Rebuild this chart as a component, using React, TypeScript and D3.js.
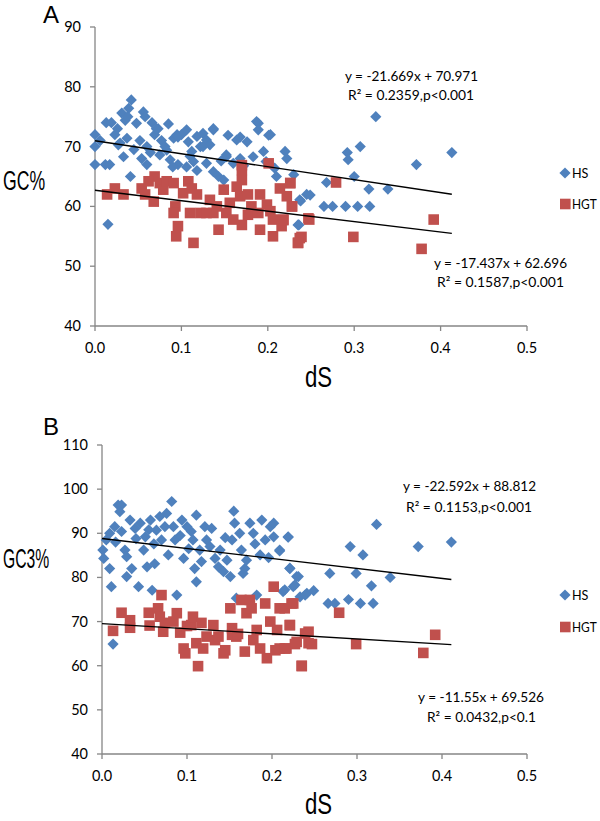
import React from "react";
import * as d3 from "d3";

const BLUE = "#4F81BD";
const RED = "#C0504D";
const AXIS = "#868686";

const X_TICKS = [0, 0.1, 0.2, 0.3, 0.4, 0.5];
const Y_TICKS_A = [40, 50, 60, 70, 80, 90];
const Y_TICKS_B = [40, 50, 60, 70, 80, 90, 100, 110];

// Panel A: GC% vs dS
const HS_A: [number, number][] = [
  [0.0, 72], [0.0, 70], [0.0, 67], [0.006, 71], [0.013, 74], [0.015, 57], [0.012, 67],
  [0.019, 74], [0.023, 72], [0.027, 70.3], [0.031, 75.6], [0.033, 68.3], [0.037, 71.4],
  [0.042, 77.8], [0.039, 76.4], [0.035, 74.4], [0.041, 65], [0.048, 73.9], [0.052, 71],
  [0.056, 75.8], [0.058, 75], [0.054, 68], [0.06, 67], [0.066, 74], [0.069, 72],
  [0.073, 73], [0.077, 71], [0.075, 68.6], [0.083, 69.4], [0.087, 67.8], [0.091, 71.4],
  [0.095, 72], [0.096, 67], [0.1, 72], [0.106, 72.8], [0.108, 70.8], [0.112, 69.2],
  [0.114, 67.5], [0.118, 71.7], [0.122, 70], [0.125, 72.2], [0.129, 71.1], [0.133, 70.3],
  [0.137, 72.8], [0.129, 67.2], [0.137, 65.8], [0.143, 65], [0.149, 64.4], [0.154, 71.9],
  [0.152, 68.6], [0.164, 71.1], [0.16, 67.2], [0.168, 68], [0.176, 70.8], [0.183, 68.3],
  [0.189, 73.9], [0.189, 72.8], [0.195, 69.2], [0.201, 71.9], [0.208, 66.4], [0.21, 65],
  [0.22, 69.2], [0.222, 68], [0.23, 65.3], [0.235, 56.9], [0.237, 61.1], [0.245, 62],
  [0.325, 75], [0.307, 70], [0.292, 69], [0.293, 67.8], [0.413, 69], [0.372, 67],
  [0.3, 65], [0.268, 64], [0.317, 62.9], [0.339, 62.9], [0.265, 60], [0.275, 60],
  [0.29, 60], [0.304, 60], [0.318, 60], [0.249, 61.9], [0.238, 60.9], [0.236, 56.9],
  [0.017, 67], [0.029, 70.6], [0.038, 75], [0.06, 70], [0.071, 73], [0.081, 70],
  [0.096, 71.6], [0.125, 70], [0.137, 73], [0.106, 66.6], [0.09, 66.6], [0.152, 68.3],
  [0.168, 71.6], [0.187, 74.2], [0.203, 72], [0.045, 69.5], [0.064, 69], [0.11, 68.4],
  [0.146, 67.6], [0.172, 66.8], [0.026, 73], [0.085, 73.8], [0.118, 66], [0.198, 67.5],
];

const HGT_A: [number, number][] = [
  [0.014, 62], [0.023, 63], [0.033, 62], [0.054, 63], [0.058, 62], [0.068, 60.8],
  [0.069, 65], [0.062, 64.2], [0.075, 63.9], [0.079, 62.8], [0.083, 64.2], [0.091, 63.9],
  [0.093, 60], [0.091, 58.9], [0.096, 56.7], [0.094, 55], [0.102, 62.2], [0.108, 64.2],
  [0.112, 63], [0.114, 53.9], [0.11, 58.9], [0.118, 62], [0.122, 58.9], [0.129, 58.9],
  [0.133, 61.1], [0.137, 58.9], [0.141, 60], [0.143, 56.1], [0.149, 62.8], [0.152, 58.9],
  [0.156, 60.6], [0.16, 57.8], [0.164, 63.3], [0.17, 64.4], [0.17, 66.9], [0.17, 66.1],
  [0.168, 61.7], [0.17, 56.9], [0.177, 62], [0.177, 58.6], [0.181, 60], [0.189, 58.9],
  [0.191, 62], [0.191, 56.1], [0.201, 67.2], [0.199, 60.3], [0.203, 59.2], [0.206, 55],
  [0.206, 57.8], [0.214, 63], [0.216, 56.7], [0.218, 57.8], [0.222, 61.7], [0.226, 63.9],
  [0.228, 60], [0.235, 53.9], [0.237, 54.7], [0.247, 58], [0.279, 64], [0.226, 63.9],
  [0.228, 60], [0.218, 57.7], [0.248, 57.8], [0.239, 54.9], [0.235, 53.9], [0.299, 54.9],
  [0.392, 57.8], [0.378, 52.9],
];

// Panel B: GC3% vs dS
const HS_B: [number, number][] = [
  [0.001, 86.2], [0.002, 84.3], [0.005, 88.5], [0.009, 90], [0.009, 82], [0.011, 77.9],
  [0.013, 64.9], [0.015, 91.5], [0.019, 96.4], [0.023, 96.4], [0.021, 94.9], [0.023, 90.4],
  [0.027, 86.2], [0.029, 84.7], [0.033, 93], [0.035, 82], [0.029, 80.2], [0.039, 91.1],
  [0.043, 77.9], [0.045, 92.3], [0.049, 86.2], [0.051, 89.2], [0.053, 82.4], [0.057, 93],
  [0.059, 77.1], [0.062, 83.1], [0.064, 90.7], [0.068, 93.8], [0.07, 88.5], [0.074, 91.5],
  [0.076, 94.5], [0.078, 85.1], [0.082, 97.2], [0.084, 91.5], [0.086, 88.5], [0.088, 76],
  [0.094, 93], [0.096, 84.3], [0.1, 91.5], [0.105, 90.4], [0.107, 88.5], [0.109, 82],
  [0.111, 94.1], [0.111, 79], [0.115, 86.2], [0.117, 83.6], [0.121, 91.5], [0.123, 88.5],
  [0.129, 91.1], [0.133, 84.3], [0.137, 82.4], [0.139, 86.2], [0.143, 81.3], [0.147, 83.9],
  [0.151, 80.2], [0.153, 88.5], [0.155, 95], [0.156, 92.3], [0.158, 75.3], [0.162, 90],
  [0.164, 86.2], [0.166, 80.9], [0.168, 82], [0.17, 83.9], [0.174, 92.3], [0.178, 90],
  [0.182, 76], [0.186, 85.1], [0.188, 93], [0.192, 88.5], [0.198, 91.5], [0.202, 92.3],
  [0.202, 89.2], [0.209, 86.2], [0.213, 76.8], [0.219, 89.2], [0.221, 82], [0.225, 77.9],
  [0.229, 80.2], [0.233, 75.6], [0.241, 76.4], [0.323, 92], [0.219, 89.1], [0.292, 87],
  [0.307, 85.1], [0.372, 87], [0.411, 88], [0.268, 80.9], [0.299, 80.9], [0.339, 80],
  [0.317, 78.1], [0.29, 75], [0.266, 74.1], [0.274, 74.1], [0.304, 74.1], [0.319, 74.1],
  [0.249, 77], [0.239, 76], [0.221, 82.1], [0.227, 78.3], [0.231, 80.2], [0.215, 77.2],
  [0.209, 86], [0.016, 88], [0.04, 88.8], [0.061, 87.6], [0.092, 89.5], [0.127, 87],
  [0.145, 89], [0.18, 87.6], [0.196, 84.5], [0.055, 90.8], [0.102, 86.5],
];

const HGT_B: [number, number][] = [
  [0.013, 67.9], [0.023, 72], [0.033, 70.3], [0.033, 68.6], [0.055, 72], [0.056, 69.1],
  [0.066, 73], [0.07, 76], [0.068, 71.1], [0.072, 67.7], [0.074, 69.7], [0.084, 70],
  [0.088, 71.9], [0.092, 67.5], [0.096, 63.9], [0.098, 62.8], [0.1, 69], [0.105, 69.2],
  [0.107, 71.1], [0.111, 65.1], [0.113, 59.9], [0.117, 69.7], [0.119, 63.9], [0.123, 66.6],
  [0.131, 69.2], [0.133, 65.8], [0.137, 66.6], [0.143, 62.8], [0.145, 63.5], [0.151, 73],
  [0.153, 68.5], [0.153, 67], [0.158, 66.6], [0.16, 67.2], [0.164, 74.9], [0.168, 63.2],
  [0.17, 71.9], [0.174, 74.9], [0.176, 73], [0.178, 65.8], [0.182, 68.1], [0.186, 63.9],
  [0.192, 74.1], [0.194, 61.7], [0.198, 70], [0.202, 77.9], [0.204, 63.5], [0.206, 68.1],
  [0.209, 63.9], [0.215, 73], [0.217, 63.9], [0.221, 69.2], [0.225, 74.1], [0.229, 65.4],
  [0.235, 59.9], [0.243, 67.7], [0.243, 65.1], [0.223, 74.1], [0.209, 73], [0.221, 69.2],
  [0.239, 67.3], [0.247, 64.9], [0.227, 64.9], [0.215, 63.9], [0.235, 60], [0.279, 72],
  [0.299, 64.9], [0.378, 62.9], [0.392, 67],
];

const FIT_A_HS = { slope: -21.669, intercept: 70.971 };
const FIT_A_HGT = { slope: -17.437, intercept: 62.696 };
const FIT_B_HS = { slope: -22.592, intercept: 88.812 };
const FIT_B_HGT = { slope: -11.55, intercept: 69.526 };

const EQ_A = ["y = -21.669x + 70.971", "R² = 0.2359,p<0.001", "y = -17.437x + 62.696", "R² = 0.1587,p<0.001"];
const EQ_B = ["y = -22.592x + 88.812", "R² = 0.1153,p<0.001", "y = -11.55x + 69.526", "R² = 0.0432,p<0.1"];

const LEGEND = ["HS", "HGT"];

const FONT = "Lato, 'Open Sans', sans-serif";
const TITLE_FONT = "'Liberation Sans', Arial, sans-serif";

type Fit = { slope: number; intercept: number };

function diamond(x: number, y: number, r: number) {
  return `M${x},${y - r}L${x + r},${y}L${x},${y + r}L${x - r},${y}Z`;
}

function Panel(props: {
  letter: string; letterY: number;
  x0: number; x1: number; yTop: number; yBot: number;
  yMin: number; yMax: number; yTicks: number[];
  hs: [number, number][]; hgt: [number, number][];
  fitHs: Fit; fitHgt: Fit;
  eq: string[];
  eqPos: { x: number; y: number; w: number }[];
  yTitle: string; yTitleY: number; yTitleScale: number;
  dsY: number; legY: number[];
}) {
  const p = props;
  const x = d3.scaleLinear().domain([0, 0.5]).range([p.x0, p.x1]);
  const y = d3.scaleLinear().domain([p.yMin, p.yMax]).range([p.yBot, p.yTop]);
  const xEnd = d3.max([...p.hs, ...p.hgt], (d) => d[0]) as number;
  const fitPath = (f: Fit) =>
    d3.line<number>().x((d) => x(d)).y((d) => y(f.slope * d + f.intercept))([0, xEnd]) as string;
  return (
    <g>
      <text x={43} y={p.letterY} fontFamily={TITLE_FONT} fontSize={24}>{p.letter}</text>
      <line x1={p.x0} x2={p.x0} y1={p.yTop} y2={p.yBot} stroke={AXIS} strokeWidth={1.3} />
      <line x1={p.x0} x2={p.x1} y1={p.yBot} y2={p.yBot} stroke={AXIS} strokeWidth={1.3} />
      {p.yTicks.map((t) => (
        <g key={"y" + t}>
          <line x1={p.x0 - 5} x2={p.x0} y1={y(t)} y2={y(t)} stroke={AXIS} strokeWidth={1.3} />
          <text x={p.x0 - 14} y={y(t) + 5} textAnchor="end" fontFamily={FONT} fontSize={14.5} fill="#000">{t}</text>
        </g>
      ))}
      {X_TICKS.map((t) => (
        <g key={"x" + t}>
          <line x1={x(t)} x2={x(t)} y1={p.yBot} y2={p.yBot + 5} stroke={AXIS} strokeWidth={1.3} />
          <text x={x(t)} y={p.yBot + 27} textAnchor="middle" fontFamily={FONT} fontSize={14.5} fill="#000">{d3.format(".1f")(t)}</text>
        </g>
      ))}
      {p.hs.map((d, i) => (
        <path key={"hs" + i} d={diamond(x(d[0]), y(d[1]), 5.6)} fill={BLUE} />
      ))}
      {p.hgt.map((d, i) => (
        <rect key={"hg" + i} x={x(d[0]) - 5.3} y={y(d[1]) - 5.3} width={10.6} height={10.6} fill={RED} />
      ))}
      <path d={fitPath(p.fitHs)} stroke="#000" strokeWidth={1.4} fill="none" />
      <path d={fitPath(p.fitHgt)} stroke="#000" strokeWidth={1.4} fill="none" />
      {p.eq.map((s, i) => (
        <text key={"eq" + i} x={p.eqPos[i].x} y={p.eqPos[i].y} textAnchor="middle" fontFamily={FONT} fontSize={14}
          textLength={p.eqPos[i].w} lengthAdjust="spacingAndGlyphs" fill="#000">{s}</text>
      ))}
      <path d={diamond(565, p.legY[0], 5.6)} fill={BLUE} />
      <text transform={`translate(572,${p.legY[0] + 5}) scale(0.9,1)`} fontFamily={FONT} fontSize={14} fill="#000">{LEGEND[0]}</text>
      <rect x={560} y={p.legY[1] - 5.3} width={10.6} height={10.6} fill={RED} />
      <text transform={`translate(572,${p.legY[1] + 5}) scale(0.85,1)`} fontFamily={FONT} fontSize={14} fill="#000">{LEGEND[1]}</text>
      <text transform={`translate(3,${p.yTitleY}) scale(${p.yTitleScale},1)`} fontFamily={TITLE_FONT} fontSize={28}>{p.yTitle}</text>
      <text transform={`translate(305,${p.dsY}) scale(0.74,1)`} fontFamily={TITLE_FONT} fontSize={30}>dS</text>
    </g>
  );
}

export default function App() {
  return (
    <svg width={600} height={821} style={{ position: "absolute", left: 0, top: 0, background: "#fff" }}>
      <rect width={600} height={821} fill="#fff" />
      <Panel letter="A" letterY={23} x0={95} x1={527} yTop={27} yBot={326} yMin={40} yMax={90} yTicks={Y_TICKS_A}
        hs={HS_A} hgt={HGT_A} fitHs={FIT_A_HS} fitHgt={FIT_A_HGT} eq={EQ_A}
        eqPos={[{ x: 411.5, y: 81, w: 133 }, { x: 411, y: 100, w: 126 }, { x: 500.5, y: 268, w: 133 }, { x: 500.5, y: 287, w: 127 }]}
        yTitle="GC%" yTitleY={190} yTitleScale={0.63} dsY={387} legY={[173, 204]} />
      <Panel letter="B" letterY={435} x0={102} x1={527} yTop={445} yBot={754} yMin={40} yMax={110} yTicks={Y_TICKS_B}
        hs={HS_B} hgt={HGT_B} fitHs={FIT_B_HS} fitHgt={FIT_B_HGT} eq={EQ_B}
        eqPos={[{ x: 469.5, y: 491, w: 133 }, { x: 469, y: 512, w: 126 }, { x: 481, y: 702, w: 126 }, { x: 481.5, y: 722, w: 109 }]}
        yTitle="GC3%" yTitleY={568} yTitleScale={0.56} dsY={814} legY={[595, 627]} />
    </svg>
  );
}
